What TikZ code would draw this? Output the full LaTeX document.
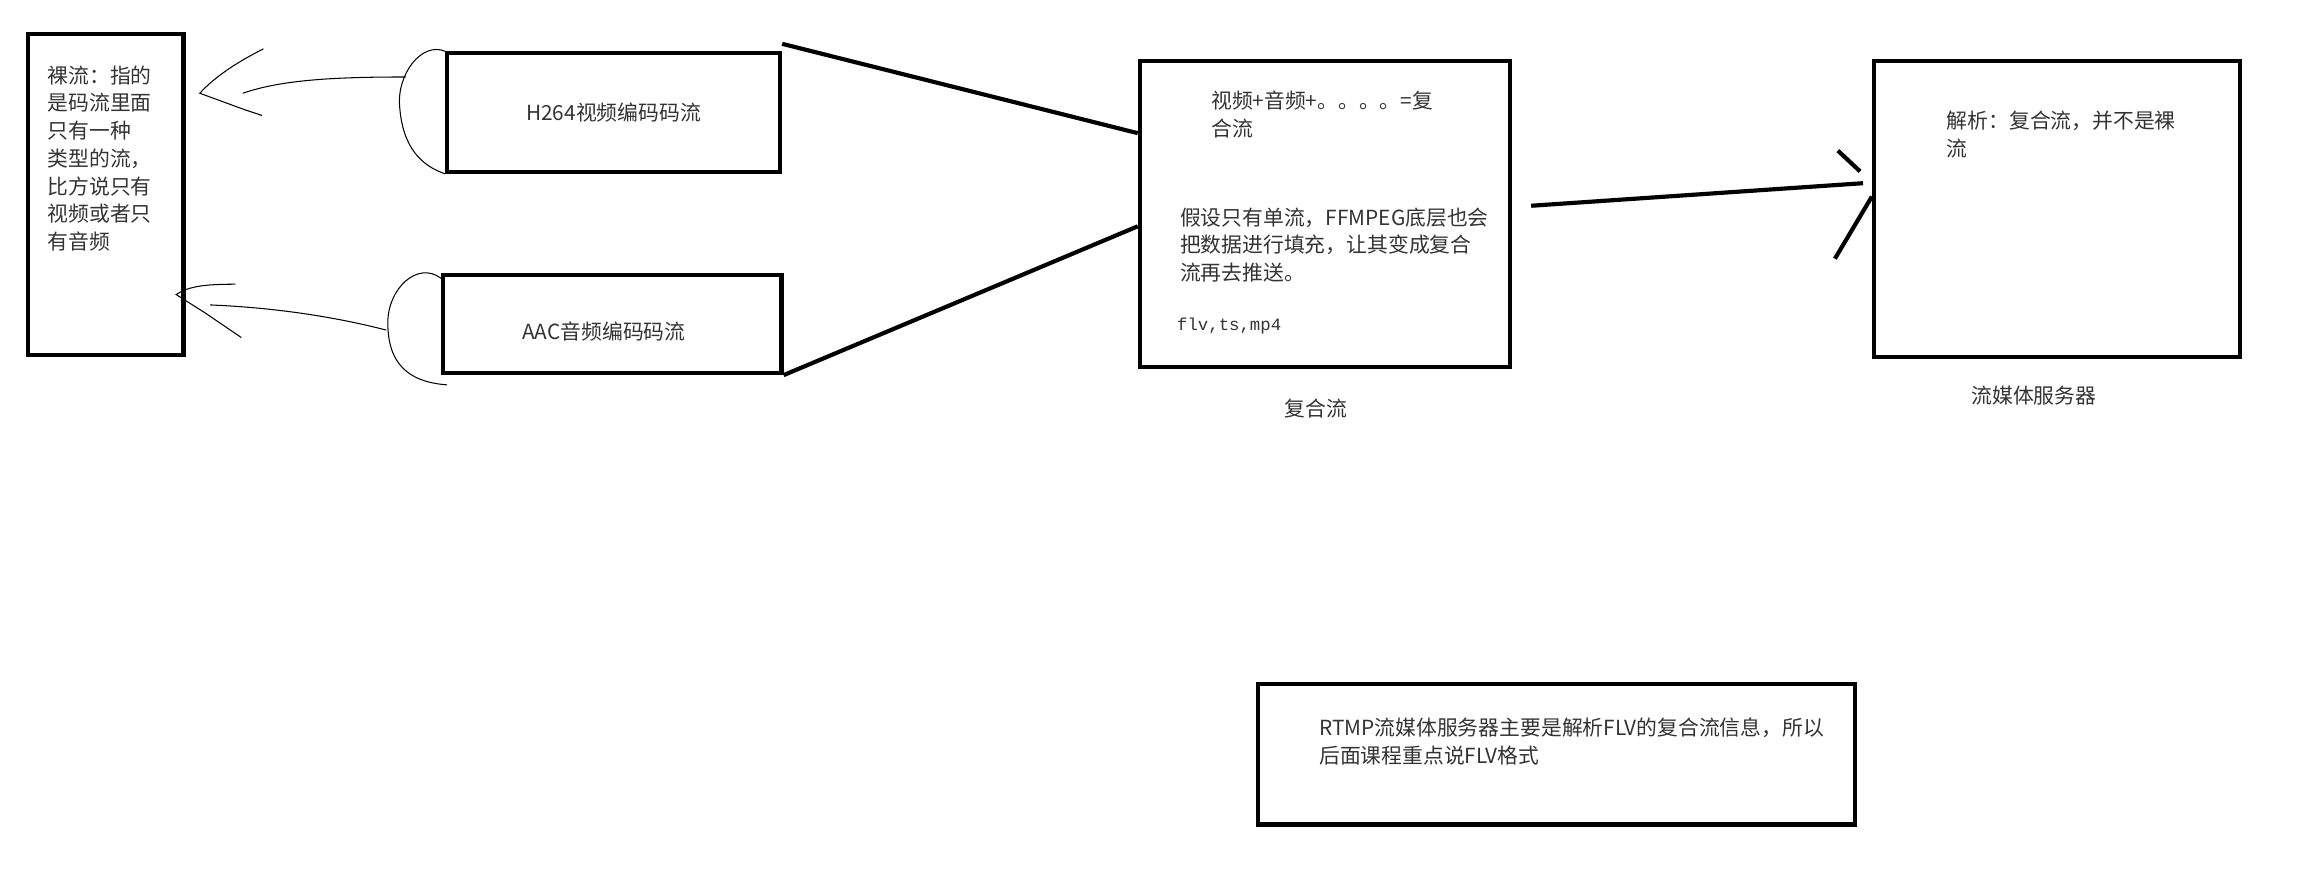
\documentclass[tikz,border=0pt]{standalone}
\usepackage{fontspec}
\setmainfont{Noto Sans CJK SC}
\newfontfamily\monofont{Liberation Mono}
\usetikzlibrary{calc}

\begin{document}
\begin{tikzpicture}[x=0.03cm,y=-0.03cm,
  box/.style n args={2}{draw,line width=2.4pt,minimum width=#1*0.03cm,minimum height=#2*0.03cm,inner sep=0pt},
  txt/.style={font=\fontsize{12}{16}\selectfont,text=black!80,inner sep=0pt},
  para/.style={txt,anchor=north west,align=left},
  pen/.style={line width=2.4pt},
  sketch/.style={line width=0.6pt}]
\useasboundingbox (0,0) rectangle (1568,605);
\node[box={105}{217}] (naked) at (71.5,131.5){};
\node[box={225}{80}] (h264) at (414.5,76){};
\node[box={229}{66}] (aac) at (413.5,219){};
\node[box={250}{207}] (mux) at (895,144.5){};
\node[box={247}{200}] (server) at (1389.5,141){};
\node[box={403}{95}] (note) at (1051.5,509.5){};
\node[para] (nakedtext) at (32,44){裸流：指的\\是码流里面\\只有一种\\类型的流，\\比方说只有\\视频或者只\\有音频};
\node[txt] (h264text) at (h264){H264视频编码码流};
\node[txt] (aactext) at (408,224){AAC音频编码码流};
\node[para] (muxsum) at (818,61){视频+音频+。。。。=复\\合流};
\node[para] (muxnote) at (797,140){假设只有单流，FFMPEG底层也会\\把数据进行填充，让其变成复合\\流再去推送。};
\node[txt,anchor=west,font=\fontsize{10}{14}\monofont] (muxfmt) at (795,220){flv,ts,mp4};
\node[txt] (muxlabel) at (889,276){复合流};
\node[para] (servertext) at (1315,75){解析：复合流，并不是裸\\流};
\node[txt] (serverlabel) at (1374,267){流媒体服务器};
\node[para] (notetext) at (891,485){RTMP流媒体服务器主要是解析FLV的复合流信息，所以\\后面课程重点说FLV格式};
\draw[pen] ($(h264.north east)+(0,-5)$) -- ($(mux.north west)!.24!(mux.south west)$);
\draw[pen] (aac.south east) -- ($(mux.north west)!.54!(mux.south west)$);
\coordinate (pushfrom) at ($(mux.east)+(13,-5.5)$);
\coordinate (pushto) at ($(server.north west)!.415!(server.south west)+(-6,0)$);
\draw[pen] (pushfrom) -- (pushto);
\draw[pen] ($(pushto)+(-17,-22)$) -- ++(15,14);
\draw[pen] ($(pushto)+(-19,51)$) -- ++(25,-42);
\draw[sketch] (h264.north west) .. controls (285,28) and (268,50) .. (270,72) .. controls (272,100) and (285,112) .. (h264.south west);
\draw[sketch] (274,52) .. controls (225,52) and (190,54) .. (164,63);
\draw[sketch] (178,33) .. controls (160,42) and (145,52) .. (135,63) -- (165,74) -- (177,78);
\draw[sketch] (298,188) .. controls (282,176) and (262,195) .. (262,218) .. controls (262,245) and (275,258) .. (302,260);
\draw[sketch] (261,223) .. controls (230,215) and (190,208) .. (142,206);
\draw[sketch] (159,192) .. controls (140,192) and (128,193) .. (119,199) -- (138,211) -- (163,228);
\end{tikzpicture}
\end{document}
